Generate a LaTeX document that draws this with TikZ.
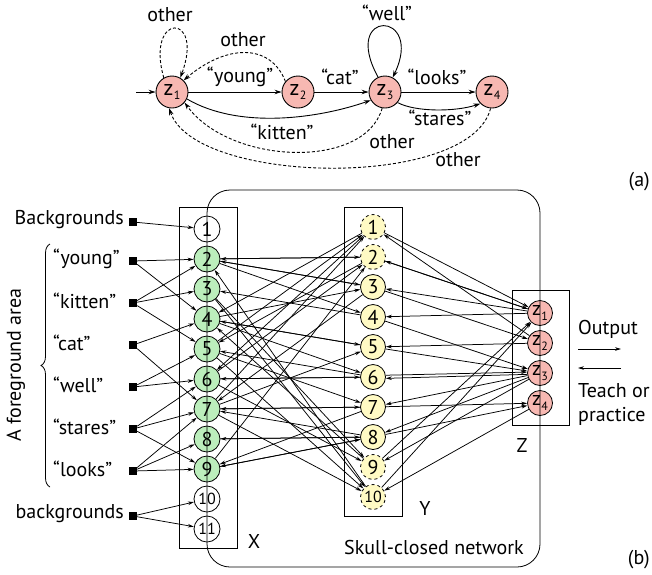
\documentclass[tikz,border=0pt]{standalone}
\usepackage{fontspec}
\setmainfont{PT Sans}
\usetikzlibrary{arrows.meta,decorations.pathreplacing}
\definecolor{zpink}{RGB}{247,184,178}
\definecolor{xgreen}{RGB}{188,238,188}
\definecolor{yyellow}{RGB}{255,250,196}
\newcommand\zsub[1]{z\kern0.3pt\raisebox{-0.22em}{\fontsize{12}{12}\selectfont #1}}
\begin{document}
\begin{tikzpicture}[x=1pt,y=-1pt,
  lbl/.style={font=\fontsize{20}{22}\selectfont,inner sep=1pt},
  anode/.style={circle,draw,line width=0.9pt,fill=zpink,minimum size=32pt,inner sep=0pt,font=\fontsize{22}{22}\selectfont},
  xnode/.style={circle,draw,line width=0.8pt,fill=xgreen,minimum size=26pt,inner sep=0pt,font=\fontsize{20}{20}\selectfont},
  xbg/.style={circle,draw,line width=0.8pt,fill=white,minimum size=26pt,inner sep=0pt,font=\fontsize{20}{20}\selectfont},
  ynode/.style={circle,draw,line width=0.8pt,fill=yyellow,minimum size=25pt,inner sep=0pt,font=\fontsize{20}{20}\selectfont},
  ydash/.style={ynode,dashed},
  zn/.style={circle,draw,line width=0.8pt,fill=zpink,minimum size=25pt,inner sep=0pt,font=\fontsize{20}{20}\selectfont},
  small/.style={font=\fontsize{16}{16}\selectfont},
  sq/.style={fill=black,minimum size=8pt,inner sep=0pt},
  boxn/.style={draw,line width=1pt,inner sep=0pt},
  aarr/.style={-{Stealth[length=7pt,width=4.5pt]},line width=0.9pt},
  adash/.style={aarr,dashed,dash pattern=on 3pt off 2pt},
  arr/.style={-{Stealth[length=6pt,width=3.6pt]},line width=0.75pt},
]
\useasboundingbox (0,0) rectangle (652,574);

% ---------- (a) ----------
\node[anode] (a1) at (172,92) {\zsub{1}};
\node[anode] (a2) at (298,92) {\zsub{2}};
\node[anode] (a3) at (385,92) {\zsub{3}};
\node[anode] (a4) at (492,92) {\zsub{4}};
\coordinate (astart) at (136,92);
\draw[aarr] (astart) -- (a1);
\draw[aarr] (a1) -- (a2);
\draw[aarr] (a2) -- (a3);
\draw[aarr] (a3) -- (a4);
\draw[aarr] (a3.-40) .. controls (415,112) and (455,112) .. (a4.-135);
\draw[aarr] (a1.-25) .. controls (240,130) and (320,118) .. (a3.-150);
\draw[aarr] (a3.115) .. controls (340,8) and (425,10) .. (a3.62);
\draw[adash] (a1.120) .. controls (145,12) and (205,12) .. (a1.60);
\draw[adash] (a2.140) .. controls (270,42) and (225,45) .. (a1.45);
\draw[adash] (a3.-100) .. controls (365,170) and (230,165) .. (a1.-40);
\draw[adash] (a4.-95) .. controls (470,190) and (195,185) .. (a1.-100);
\node[lbl] (lo1) at (170,15) {other};
\node[lbl] (lo2) at (243,40) {other};
\node[lbl] (ly) at (240,77) {“young”};
\node[lbl] (lc) at (340,77) {“cat”};
\node[lbl] (lw) at (387,13) {“well”};
\node[lbl] (ll) at (437,77) {“looks”};
\node[lbl] (lk) at (282,132) {“kitten”};
\node[lbl] (ls) at (440,118) {“stares”};
\node[lbl] (lo3) at (392,142) {other};
\node[lbl] (lo4) at (458,160) {other};
\node[lbl,anchor=east] (la) at (651,182) {(a)};

% ---------- (b) boxes ----------
\node[boxn,minimum width=58pt,minimum height=341pt] (Xbox) at (208,377.5) {};
\node[boxn,minimum width=58pt,minimum height=309pt] (Ybox) at (373,361.5) {};
\node[boxn,minimum width=57pt,minimum height=135pt] (Zbox) at (540.5,357.5) {};
\node[lbl] (Xl) at (254,541) {X};
\node[lbl] (Yl) at (425,508) {Y};
\node[lbl] (Zl) at (522,445) {Z};

% X nodes
\node[xbg] (X1) at (207,229) {1};
\foreach \i/\y in {2/259,3/289,4/319,5/349,6/379,7/409,8/439,9/469}
  \node[xnode] (X\i) at (207,\y) {\i};
\node[xbg,small] (X10) at (207,499) {10};
\node[xbg,small] (X11) at (207,529) {11};

% Y nodes
\node[ydash] (Y1) at (373,227) {1};
\node[ydash] (Y2) at (373,257) {2};
\foreach \i/\y in {3/287,4/317,5/347,6/377,7/407,8/437}
  \node[ynode] (Y\i) at (373,\y) {\i};
\node[ydash] (Y9) at (373,467) {9};
\node[ydash,small] (Y10) at (373,497) {10};

% Z nodes
\node[zn] (Z1) at (540,313) {\zsub{1}};
\node[zn] (Z2) at (540,343) {\zsub{2}};
\node[zn] (Z3) at (540,373) {\zsub{3}};
\node[zn] (Z4) at (540,403) {\zsub{4}};

% inputs
\node[sq] (iB) at (133,222) {};
\node[sq] (iy) at (133,261) {};
\node[sq] (ik) at (133,303) {};
\node[sq] (ic) at (133,345) {};
\node[sq] (iw) at (133,387) {};
\node[sq] (is) at (133,429) {};
\node[sq] (il) at (133,471) {};
\node[sq] (ib) at (133,516) {};
\node[lbl,anchor=east] (tB) at (125,220) {Backgrounds};
\node[lbl,anchor=west] (ty) at (52,259) {“young”};
\node[lbl,anchor=west] (tk) at (52,301) {“kitten”};
\node[lbl,anchor=west] (tc) at (52,343) {“cat”};
\node[lbl,anchor=west] (tw) at (52,385) {“well”};
\node[lbl,anchor=west] (ts) at (52,427) {“stares”};
\node[lbl,anchor=west] (tl) at (52,469) {“looks”};
\node[lbl,anchor=east] (tb) at (125,514) {backgrounds};
\draw[line width=0.8pt,decorate,decoration={brace,amplitude=9pt}] (50,487) -- (50,244);
\node[lbl,rotate=90] (fg) at (16,365) {A foreground area};

\draw[arr] (iB) -- (X1);
\draw[arr] (iy) -- (X2); \draw[arr] (iy) -- (X4);
\draw[arr] (ik) -- (X2); \draw[arr] (ik) -- (X3); \draw[arr] (ik) -- (X5);
\draw[arr] (ic) -- (X4); \draw[arr] (ic) -- (X7);
\draw[arr] (iw) -- (X5); \draw[arr] (iw) -- (X6);
\draw[arr] (is) -- (X6); \draw[arr] (is) -- (X7); \draw[arr] (is) -- (X9);
\draw[arr] (il) -- (X7); \draw[arr] (il) -- (X8); \draw[arr] (il) -- (X9);
\draw[arr] (ib) -- (X10); \draw[arr] (ib) -- (X11);

% X -> Y
\foreach \a/\b in {2/2,2/3,2/4,3/9,4/3,4/6,5/1,5/7,5/10,6/2,6/6,6/9,7/1,7/5,7/7,7/10,8/8,9/2,9/8,4/5,3/10}
  \draw[arr] (X\a) -- (Y\b);
% Y -> X
\foreach \a/\b in {2/2,3/2,10/2,4/3,1/4,5/4,2/5,6/5,1/6,6/6,3/7,7/7,8/7,8/8,7/9,8/9,9/4}
  \draw[arr] (Y\a) -- (X\b);

% Y <-> Z
\draw[arr] (Y1) -- (Z1);
\draw[arr] (Z2) -- (Y1);
\draw[arr] (Y2) -- (Z1);
\draw[arr] (Z1) -- (Y2);
\draw[arr] (Z1) -- (Y3);
\draw[arr] (Y3) -- (Z2);
\draw[arr] (Z1) -- (Y4);
\draw[arr] (Y4) -- (Z3);
\draw[arr] (Z2) -- (Y5);
\draw[arr] (Y5) -- (Z3);
\draw[arr] (Y6.8) -- (Z3.176);
\draw[arr] (Z3.186) -- (Y6.-6);
\draw[arr] (Z3) -- (Y7);
\draw[arr] (Y7) -- (Z4);
\draw[arr] (Z3) -- (Y8);
\draw[arr] (Y8) -- (Z4);
\draw[arr] (Z3) -- (Y9);
\draw[arr] (Y9) -- (Z1);
\draw[arr] (Y10) -- (Z1);
\draw[arr] (Z4) -- (Y10);

% outer network
\node[draw,line width=0.8pt,rounded corners=23pt,minimum width=333pt,minimum height=377pt,inner sep=0pt] (net) at (373.5,378.5) {};
\node[lbl] (netl) at (434,547) {Skull-closed network};

% output
\coordinate (o1) at (578,349); \coordinate (o2) at (621,349);
\coordinate (t1) at (621,368); \coordinate (t2) at (578,368);
\draw[arr] (o1) -- (o2);
\draw[arr] (t1) -- (t2);
\node[lbl,anchor=west] (out) at (577,329) {Output};
\node[lbl,anchor=west] (teach) at (577,391) {Teach or};
\node[lbl,anchor=west] (prac) at (577,416) {practice};
\node[lbl,anchor=east] (lb) at (651,560) {(b)};
\end{tikzpicture}
\end{document}
